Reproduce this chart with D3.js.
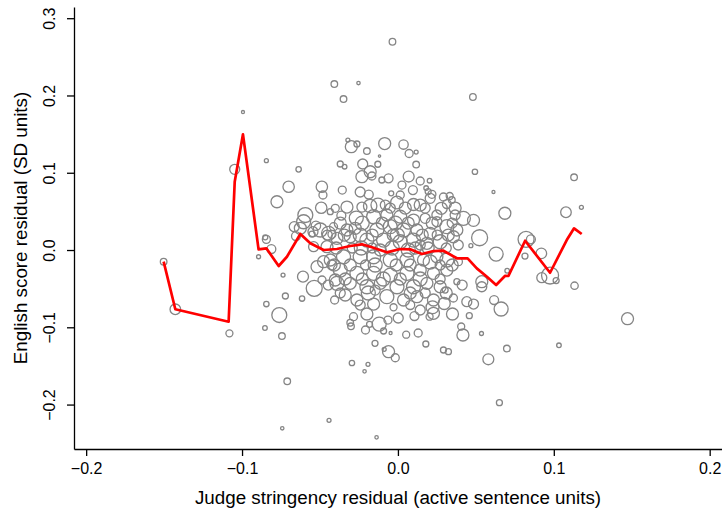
<!DOCTYPE html>
<html>
<head>
<meta charset="utf-8">
<script src="https://cdn.jsdelivr.net/npm/d3@7"></script>
<style>
  html, body { margin: 0; padding: 0; background: #ffffff; }
  svg { display: block; font-family: "Liberation Sans", Arial, Helvetica, sans-serif; }
</style>
</head>
<body>
<svg id="chart" width="722" height="512"></svg>
<script>
// Judge-level residuals: stringency (x), English score (y), case weight (bubble area)
const judgeX = [
  -0.0035,-0.0408,-0.0253,-0.0349,0.0481,-0.0994,-0.0844,-0.1047,-0.0637,-0.0701,
  -0.0488,-0.0776,-0.0321,-0.0299,-0.0263,-0.0199,-0.0085,0.0036,0.0072,0.0117,
  -0.0118,-0.0370,-0.0342,-0.0226,-0.0129,0.0117,0.0494,0.0613,0.1130,0.1177,
  0.1078,0.0686,0.0420,0.0485,0.0524,0.0630,0.0468,0.0822,0.0853,0.0920,
  0.0815,0.0701,0.0976,0.0923,0.1015,0.1133,0.0617,0.0662,0.1473,0.1033,
  0.0699,0.0580,0.0651,0.0538,0.0538,0.0442,0.0485,0.0350,0.0297,0.0458,
  0.0536,0.0406,0.0417,-0.1503,-0.1428,-0.1081,-0.0894,-0.0844,-0.0812,-0.0851,
  -0.0737,-0.0722,-0.0615,-0.0844,-0.0761,-0.0853,-0.0744,-0.0710,-0.0742,-0.0442,
  -0.0137,-0.0295,-0.0192,-0.0214,-0.0147,-0.0060,-0.0017,-0.0088,-0.0306,-0.0301,
  -0.0182,-0.0120,-0.0064,-0.0092,-0.0047,-0.0199,-0.0242,-0.0156,0.0053,0.0130,
  0.0179,0.0292,0.0324,0.0106,0.0203,0.0222,0.0079,-0.0028,-0.0605,-0.0594,
  -0.0492,-0.0434,-0.0526,-0.0445,-0.0423,-0.0626,-0.0654,-0.0551,-0.0609,-0.0537,
  -0.0487,-0.0519,-0.0477,-0.0406,-0.0402,-0.0231,-0.0178,-0.0167,-0.0103,-0.0060,
  0.0069,0.0143,0.0203,0.0026,0.0096,0.0181,0.0194,0.0218,0.0207,0.0292,
  0.0332,0.0346,0.0314,0.0278,0.0250,-0.0043,-0.0187,-0.0006,0.0100,-0.0178,
  -0.0231,-0.0128,-0.0327,-0.0402,-0.0363,-0.0267,-0.0327,-0.0274,-0.0413,-0.0498,
  -0.0156,-0.0071,0.0015,0.0100,0.0175,0.0250,0.0314,0.0378,-0.0135,-0.0049,
  0.0036,0.0122,0.0207,0.0356,-0.0199,-0.0092,0.0015,0.0100,0.0186,0.0271,
  -0.0306,-0.0391,-0.0455,-0.0349,-0.0242,-0.0156,-0.0049,0.0058,0.0164,0.0250,
  0.0314,-0.0434,-0.0370,-0.0263,-0.0156,-0.0049,0.0058,0.0143,0.0228,0.0314,
  0.0388,-0.0391,-0.0306,-0.0199,-0.0113,-0.0006,0.0100,0.0186,0.0271,0.0378,
  -0.0263,-0.0071,0.0036,0.0122,0.0228,0.0303,0.0356,-0.0285,0.0228,-0.0665,
  -0.0545,-0.0541,-0.0423,-0.0481,-0.0030,0.0066,-0.0113,-0.0011,-0.0208,0.0143,
  0.0207,-0.0293,-0.0081,-0.0242,0.0143,0.0367,-0.0338,0.0143,0.0002,-0.0208,
  0.0387,0.0412,-0.0447,-0.0357,0.0015,-0.0146,
  -0.0370,-0.0229,-0.0101,-0.0017,0.0066,0.0220,0.0348,
  -0.0453,-0.0344,-0.0242,-0.0165,-0.0004,0.0156,0.0252,0.0323,
  -0.0396,-0.0235,-0.0165,-0.0037,0.0111,0.0194,0.0310,
  -0.0408,-0.0306,-0.0146,0.0079,0.0271,0.0348,
  -0.0338,-0.0229,-0.0094,0.0015,0.0143,0.0271,
  -0.0370,-0.0190,0.0079,0.0175,0.0310,
  -0.0049,0.0047,0.0175,0.0367
];
const englishY = [
  0.2695,0.2148,0.2161,0.1954,0.1980,0.1786,0.1156,0.1044,0.1044,0.0819,
  0.0819,0.0625,0.1423,0.1337,0.1372,0.1281,0.1378,0.1365,0.1249,0.1268,
  0.1216,0.1113,0.1078,0.1113,0.1110,0.1106,0.1013,0.0751,0.0941,0.0553,
  0.0489,0.0476,0.0410,0.0384,0.0159,-0.0052,0.0056,0.0138,0.0138,-0.0043,
  -0.0078,-0.0268,-0.0330,-0.0358,-0.0395,-0.0462,-0.0647,-0.0763,-0.0889,-0.1233,
  -0.1275,-0.1414,-0.1976,-0.0410,-0.0475,-0.0669,-0.0699,-0.0828,-0.0692,-0.0850,
  -0.1080,-0.0990,-0.1100,-0.0151,-0.0767,-0.1078,-0.0087,0.0138,0.0013,0.0164,
  -0.0324,-0.0595,-0.0628,-0.0699,-0.0841,-0.1009,-0.1113,-0.1699,-0.2307,-0.2204,
  -0.2424,-0.1462,-0.1479,-0.1570,-0.1207,-0.1316,-0.1394,-0.1285,-0.0941,-0.0987,
  -0.0961,-0.0958,-0.0906,-0.1048,-0.1074,-0.0828,-0.0712,-0.0699,-0.1096,-0.1074,
  -0.1216,-0.1294,-0.1316,-0.0854,-0.0863,-0.0741,-0.0712,-0.0741,0.0366,0.0453,
  0.0547,0.0496,0.0314,0.0216,0.0203,0.0281,0.0181,0.0207,-0.0345,-0.0496,
  -0.0388,-0.0216,-0.0151,-0.0647,-0.0388,0.0949,0.1013,0.0958,0.0906,0.0928,
  0.0951,0.0893,0.0897,0.0841,0.0776,0.0802,0.0757,0.0721,0.0669,0.0686,
  0.0699,0.0647,0.0595,0.0540,0.0453,0.0734,0.0718,0.0615,0.0589,0.0569,
  0.0556,0.0582,0.0556,0.0540,0.0446,0.0414,0.0259,0.0281,0.0302,0.0259,
  0.0431,0.0453,0.0431,0.0388,0.0410,0.0366,0.0302,0.0259,0.0259,0.0302,
  0.0259,0.0259,0.0216,0.0172,0.0129,0.0129,0.0107,0.0129,0.0087,0.0107,
  0.0172,0.0151,0.0043,-0.0087,-0.0087,-0.0087,-0.0129,-0.0129,-0.0129,-0.0087,
  -0.0129,-0.0129,-0.0259,-0.0302,-0.0302,-0.0324,-0.0302,-0.0259,-0.0302,-0.0259,
  -0.0151,-0.0431,-0.0431,-0.0475,-0.0431,-0.0475,-0.0475,-0.0431,-0.0475,-0.0410,
  -0.0647,-0.0604,-0.0647,-0.0604,-0.0647,-0.0518,-0.0621,-0.0863,-0.0819,0.0302,
  0.0237,0.0043,-0.0194,0.0712,0.0194,0.0000,0.0000,-0.0194,-0.0194,0.0065,
  -0.0155,0.0026,0.0582,0.0751,0.0582,0.0453,-0.0582,-0.0776,-0.0880,-0.1035,
  0.0065,-0.0453,-0.0453,0.0776,0.0712,-0.0518,
  0.0349,0.0349,0.0349,0.0349,0.0349,0.0349,0.0349,
  0.0194,0.0194,0.0194,0.0194,0.0194,0.0194,0.0194,0.0194,
  0.0026,0.0026,0.0026,0.0026,0.0026,0.0026,0.0026,
  -0.0194,-0.0194,-0.0194,-0.0194,-0.0194,-0.0194,
  -0.0375,-0.0375,-0.0375,-0.0375,-0.0375,-0.0375,
  -0.0556,-0.0556,-0.0556,-0.0556,-0.0556,
  0.0543,0.0543,0.0543,0.0543
];
const caseWeight = [
  10.9,10.9,2.9,10.9,10.9,2.3,4,25,7.3,32.5,
  32.5,36,4,36,9,10.9,36,22,16,4,
  1.4,9,5.3,25,9,10.9,7.3,2.3,10.9,4,
  28,36,49,36,64,49,4,64,20,28,
  9,5.3,72,25,9,13.7,20,49,36,5.3,
  10.9,30,9,36,25,25,25,36,36,9,
  4,12.3,36,10.9,28,12.3,4,16,20,6.3,
  4,9,7.3,7.3,56,5.3,10.9,10.9,2.9,4,
  2.9,7.3,4,2.9,9,36,16,4,10.9,10.9,
  9,49,16,9,2.3,36,25,36,12.3,16,
  9,9,9,20,12.3,42,20,12.3,49,56,
  32.5,9,22,49,16,36,20,9,30,64,
  16,36,36,16,36,36,36,16,9,20,
  30,16,5.3,16,20,5.3,9,16,25,16,
  12.3,10.9,20,36,25,6.3,20,40,36,45,
  25,49,36,16,20,49,36,36,16,49,
  49,36,42,36,25,25,49,36,49,49,
  49,36,36,36,49,49,49,49,36,49,
  36,36,36,49,49,49,49,49,36,36,
  49,36,49,49,49,49,49,36,36,36,
  16,49,36,49,36,49,49,36,36,9,
  36,49,36,36,36,9,16,16,36,25,
  25,25,25,16,36,49,36,36,25,25,
  49,25,25,25,36,25,36,25,25,16,
  25,25,25,16,16,25,
  36,49,36,49,36,36,25,
  25,36,49,36,49,36,25,36,
  36,49,25,49,36,36,25,
  36,36,49,36,25,36,
  36,36,49,36,49,25,
  25,49,36,25,36,
  25,36,25,36
];

// Smoothed fit across the stringency range
const fitX = [
  -0.1503,-0.1428,-0.1086,-0.1047,-0.0994,-0.0894,-0.0844,-0.0765,-0.0712,-0.0626,
  -0.0562,-0.0477,-0.0391,-0.0306,-0.0231,-0.0167,-0.0071,0.0015,0.0079,0.0154,
  0.0228,0.0292,0.0378,0.0447,0.0506,0.0571,0.0630,0.0688,0.0709,0.0816,
  0.0976,0.1083,0.1130,0.1179
];
const fitY = [
  -0.0151,-0.0767,-0.0928,0.0884,0.1497,0.0009,0.0022,-0.0207,-0.0087,0.0207,
  0.0087,0.0000,0.0013,0.0052,0.0074,0.0035,-0.0030,0.0013,0.0009,-0.0052,
  -0.0013,-0.0009,-0.0107,-0.0107,-0.0237,-0.0345,-0.0453,-0.0333,-0.0336,0.0120,
  -0.0294,0.0129,0.0281,0.0207
];

const xTicks = [-0.2, -0.1, 0.0, 0.1, 0.2];
const yTicks = [-0.2, -0.1, 0.0, 0.1, 0.2, 0.3];
const xTitle = "Judge stringency residual (active sentence units)";
const yTitle = "English score residual (SD units)";

const svg = d3.select("#chart");
const plotLeft = 74, plotRight = 722, plotTop = 7, plotBottom = 449;

const x = d3.scaleLinear().domain([-0.2078, 0.2079]).range([plotLeft, plotRight]);
const y = d3.scaleLinear().domain([-0.2575, 0.3145]).range([plotBottom, plotTop]);
const r = d3.scaleSqrt().domain([0, 100]).range([0, 10]);

const n = Math.min(judgeX.length, englishY.length, caseWeight.length);
const points = d3.range(n).map(i => ({ x: judgeX[i], y: englishY[i], w: caseWeight[i] }));

// Bubbles
svg.append("g")
  .selectAll("circle")
  .data(points)
  .join("circle")
  .attr("cx", d => x(d.x))
  .attr("cy", d => y(d.y))
  .attr("r", d => r(d.w))
  .attr("fill", "none")
  .attr("stroke", "#858585")
  .attr("stroke-width", 1.3);

// Fit line
const fit = fitX.map((d, i) => [d, fitY[i]]);
svg.append("path")
  .datum(fit)
  .attr("fill", "none")
  .attr("stroke", "#ff0000")
  .attr("stroke-width", 2.7)
  .attr("stroke-linejoin", "round")
  .attr("d", d3.line().x(d => x(d[0])).y(d => y(d[1])));

const fmt = d3.format(".1f");

// X axis
const gx = svg.append("g")
  .attr("transform", `translate(0,${plotBottom})`)
  .call(d3.axisBottom(x).tickValues(xTicks).tickFormat(fmt).tickSize(7).tickSizeOuter(0));
gx.select(".domain").attr("stroke", "#000").attr("stroke-width", 1.3);
gx.selectAll(".tick line").attr("stroke", "#000").attr("stroke-width", 1.3);
gx.selectAll(".tick text")
  .attr("font-size", 16)
  .attr("font-family", "Liberation Sans, Arial, Helvetica, sans-serif")
  .attr("fill", "#000")
  .attr("dy", null)
  .attr("y", 25);

// Y axis
const gy = svg.append("g")
  .attr("transform", `translate(${plotLeft},0)`)
  .call(d3.axisLeft(y).tickValues(yTicks).tickFormat(fmt).tickSize(7).tickSizeOuter(0));
gy.select(".domain").attr("stroke", "#000").attr("stroke-width", 1.3);
gy.selectAll(".tick line").attr("stroke", "#000").attr("stroke-width", 1.3);
gy.selectAll(".tick text")
  .attr("font-size", 16)
  .attr("font-family", "Liberation Sans, Arial, Helvetica, sans-serif")
  .attr("fill", "#000")
  .attr("x", 0)
  .attr("y", -19)
  .attr("dy", null)
  .attr("text-anchor", "middle")
  .attr("transform", "rotate(-90)");

// Axis titles
svg.append("text")
  .attr("x", (plotLeft + plotRight) / 2)
  .attr("y", 504)
  .attr("text-anchor", "middle")
  .attr("font-size", 18.8)
  .attr("fill", "#000")
  .text(xTitle);

svg.append("text")
  .attr("transform", `translate(27,${(plotTop + plotBottom) / 2}) rotate(-90)`)
  .attr("text-anchor", "middle")
  .attr("font-size", 18.8)
  .attr("fill", "#000")
  .text(yTitle);
</script>
</body>
</html>
